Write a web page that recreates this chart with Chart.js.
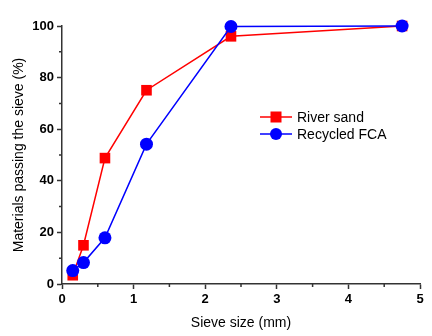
<!DOCTYPE html>
<html>
<head>
<meta charset="utf-8">
<script src="https://cdn.jsdelivr.net/npm/chart.js@4/dist/chart.umd.min.js"></script>
<style>
  html, body { margin: 0; padding: 0; background: #fff; }
  #wrap { width: 432px; height: 336px; }
</style>
</head>
<body>
<div id="wrap"><canvas id="grading"></canvas></div>
<script>
// sieve openings (mm) and cumulative passing (%)
const sieveSizes = [0.15, 0.3, 0.6, 1.18, 2.36, 4.75];
const riverSand = [3.4, 15, 48.8, 75.1, 96, 100];
const recycledFCA = [5.2, 8.3, 17.9, 54.2, 99.8, 100];
const seriesNames = ["River sand", "Recycled FCA"];

const xTicks = [0, 1, 2, 3, 4, 5];
const yTicks = [0, 20, 40, 60, 80, 100];

const axisColor = "#333";
const font = "'Liberation Sans', Arial, sans-serif";

function toPoints(ys) {
    return sieveSizes.map((x, i) => ({ x: x, y: ys[i] }));
}

// short minor ticks halfway between labelled ones
const minorTicks = {
    id: "minorTicks",
    afterDraw(chart) {
        const ctx = chart.ctx;
        const xs = chart.scales.x, ys = chart.scales.y;
        ctx.save();
        ctx.strokeStyle = axisColor;
        ctx.lineWidth = 1.5;
        ctx.beginPath();
        for (let i = 0; i < xTicks.length - 1; i++) {
            const px = xs.getPixelForValue(xTicks[i] + 0.5);
            ctx.moveTo(px, xs.top);
            ctx.lineTo(px, xs.top + 3);
        }
        for (let i = 0; i < yTicks.length - 1; i++) {
            const py = ys.getPixelForValue(yTicks[i] + 10);
            ctx.moveTo(ys.right, py);
            ctx.lineTo(ys.right - 3, py);
        }
        ctx.stroke();
        ctx.restore();
    }
};

// legend with line + marker inside the plot
const lineLegend = {
    id: "lineLegend",
    afterDraw(chart) {
        const ctx = chart.ctx;
        const x0 = 260, x1 = 292, y0 = 117, gap = 17;
        ctx.save();
        seriesNames.forEach((name, i) => {
            const ds = chart.data.datasets[i];
            const y = y0 + i * gap;
            ctx.strokeStyle = ds.borderColor;
            ctx.lineWidth = 1.5;
            ctx.beginPath();
            ctx.moveTo(x0, y);
            ctx.lineTo(x1, y);
            ctx.stroke();
            ctx.fillStyle = ds.backgroundColor;
            const cx = (x0 + x1) / 2;
            if (ds.pointStyle === "rect") {
                ctx.fillRect(cx - 5.5, y - 5.5, 11, 11);
            } else {
                ctx.beginPath();
                ctx.arc(cx, y, 6, 0, Math.PI * 2);
                ctx.fill();
            }
            ctx.fillStyle = "#000";
            ctx.font = "14px " + font;
            ctx.textBaseline = "middle";
            ctx.fillText(name, x1 + 5, y + 1);
        });
        ctx.restore();
    }
};

new Chart(document.getElementById("grading"), {
    type: "line",
    data: {
        datasets: [
            {
                label: seriesNames[0],
                data: toPoints(riverSand),
                borderColor: "#ff0000",
                backgroundColor: "#ff0000",
                borderWidth: 1.5,
                pointStyle: "rect",
                pointRadius: 7.5,
                pointBorderWidth: 0,
                clip: false,
                order: 2
            },
            {
                label: seriesNames[1],
                data: toPoints(recycledFCA),
                borderColor: "#0000ff",
                backgroundColor: "#0000ff",
                borderWidth: 1.5,
                pointStyle: "circle",
                pointRadius: 6.5,
                pointBorderWidth: 0,
                clip: false,
                order: 1
            }
        ]
    },
    options: {
        responsive: true,
        maintainAspectRatio: false,
        animation: false,
        layout: { padding: { top: 26, right: 12, left: 0, bottom: 0 } },
        plugins: {
            legend: { display: false },
            tooltip: { enabled: false }
        },
        scales: {
            x: {
                type: "linear",
                min: 0,
                max: 5,
                afterFit: s => { s.height = 52; },
                afterBuildTicks: s => { s.ticks = xTicks.map(v => ({ value: v })); },
                border: { color: axisColor, width: 1.5 },
                grid: { drawOnChartArea: false, drawTicks: true, tickLength: 5, tickColor: axisColor, tickWidth: 1.5 },
                ticks: { color: "#000", padding: 3, font: { family: font, size: 13, weight: "bold" } },
                title: { display: true, text: "Sieve size (mm)", color: "#000", padding: { top: 6 }, font: { family: font, size: 14 } }
            },
            y: {
                min: 0,
                max: 100,
                afterFit: s => { s.width = 62; },
                afterBuildTicks: s => { s.ticks = yTicks.map(v => ({ value: v })); },
                border: { color: axisColor, width: 1.5 },
                grid: { drawOnChartArea: false, drawTicks: true, tickLength: 5, tickColor: axisColor, tickWidth: 1.5 },
                ticks: { color: "#000", padding: 3, font: { family: font, size: 13, weight: "bold" } },
                title: { display: true, text: "Materials passing the sieve (%)", color: "#000", padding: { top: 11, bottom: 2 }, font: { family: font, size: 14 } }
            }
        }
    },
    plugins: [minorTicks, lineLegend]
});
</script>
</body>
</html>
